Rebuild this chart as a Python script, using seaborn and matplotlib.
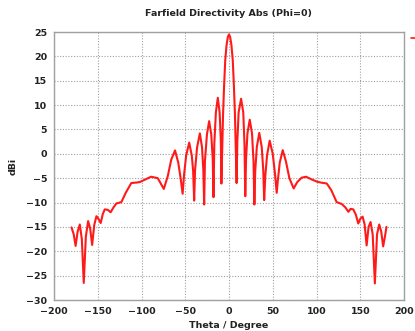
import matplotlib
matplotlib.use("Agg")
import matplotlib.pyplot as plt
import seaborn as sns
import pandas as pd
from matplotlib.lines import Line2D

theta = [
    -180, -177.5, -175.3, -173, -170.5, -168.2, -166, -163.6, -161, -158.7, -156.4, -154, -151.5,
    -149, -146.6, -144.3, -142, -138.5, -135.3, -132, -128.8, -123, -118, -111.7, -106, -102,
    -95, -89, -81.4, -77.6, -74.5, -70, -66, -61.7, -58, -55.3, -53, -51.3, -49, -45.5,
    -42.5, -41, -39.8, -38.8, -36.5, -33.3, -30.8, -29.3, -28.4, -27.5, -25.2, -22.7, -20.3,
    -18.6, -17.7, -16.8, -15, -12.8, -10.7, -9.3, -8.7, -7.8, -6.8, -5.6, -4.3, -2.8, -1.3,
    0,
    1.3, 2.8, 4.3, 5.6, 6.8, 7.8, 8.7, 9.5, 11, 13.8, 16.3, 17.7, 18.6, 19.5, 21.1, 23.7,
    26.3, 28, 29, 30, 31.8, 34.6, 37.4, 39.2, 40.2, 41.5, 43.5, 46.5, 50, 52.8, 54.5, 55.8,
    58, 61.4, 65, 69, 73.9, 78, 83, 88, 95, 100.4, 105, 111.8, 117, 123, 128.8, 133,
    136.4, 139, 142, 145, 147.7, 150.2, 152.7, 155, 157.3, 159.5, 161.8, 164.2, 166.7,
    169.2, 171.7, 174, 176.2, 178.2, 180,
]
dbi = [
    -15.1, -16.5, -18.9, -16.0, -14.5, -17.5, -26.5, -17.0, -13.8, -15.3, -18.7, -14.6, -12.8,
    -13.4, -14.2, -12.4, -11.4, -11.5, -12.0, -11.0, -10.2, -9.9, -8.0, -6.0, -5.9, -5.8,
    -5.2, -4.7, -5.0, -6.2, -7.2, -4.6, -1.2, 0.7, -1.8, -5.0, -8.2, -4.2, -0.4, 2.3,
    -0.4, -3.5, -9.6, -3.4, 1.3, 4.2, 1.3, -3.5, -10.4, -1.5, 4.0, 6.7, 4.0,
    -1.0, -8.9, 2.0, 8.5, 11.5, 8.5, 2.5, -6.1, 1.0, 8.0, 14.0, 19.2, 22.3, 24.0,
    24.5,
    24.0, 22.3, 19.2, 14.0, 8.0, 1.0, -6.0, 2.5, 8.5, 11.3, 8.5, 2.0, -8.7, -1.0, 4.2, 7.0,
    4.2, -1.5, -10.4, -3.5, 1.4, 4.3, 1.4, -3.5, -9.5, -4.5, -0.3, 2.7, 0.0, -4.5, -8.0, -5.5,
    -1.8, 0.75, -1.5, -5.0, -7.1, -5.8, -4.9, -4.7, -5.3, -5.7, -5.9, -6.1, -7.5, -9.9, -10.3, -11.0,
    -11.9, -11.3, -11.4, -12.5, -14.3, -13.3, -12.9, -14.5, -18.8, -15.0, -14.0, -16.5, -26.6,
    -16.5, -14.5, -16.0, -19.0, -17.0, -15.0,
]
x_ticks = [-200, -150, -100, -50, 0, 50, 100, 150, 200]
y_ticks = [-30, -25, -20, -15, -10, -5, 0, 5, 10, 15, 20, 25]
title = "Farfield Directivity Abs (Phi=0)"
x_label = "Theta / Degree"
y_label = "dBi"

df = pd.DataFrame({"theta": theta, "dbi": dbi})

sns.set_theme(style="white")
plt.rcParams["font.family"] = ["DejaVu Sans"]

fig = plt.figure(figsize=(4.15, 3.31), dpi=100)
ax = fig.add_axes([54 / 415, 1 - 300 / 331, 350 / 415, 268 / 331])

sns.lineplot(data=df, x="theta", y="dbi", sort=False, color="#ff1a1a",
             linewidth=1.5, ax=ax, estimator=None)

ax.set_xlim(-200, 200)
ax.set_ylim(-30, 25)
ax.set_xticks(x_ticks)
ax.set_yticks(y_ticks)
ax.grid(True, color="#a0a0a0", linestyle=(0, (1, 1.5)), linewidth=0.8)
for s in ax.spines.values():
    s.set_color("#a0a0a0")
    s.set_linewidth(1.0)
ax.tick_params(axis="x", labelsize=6.8, pad=5, length=0, colors="#222222")
ax.tick_params(axis="y", labelsize=6.8, pad=5, length=0, colors="#222222")
for lab in ax.get_xticklabels() + ax.get_yticklabels():
    lab.set_fontweight("bold")

ax.set_xlabel(x_label, fontsize=6.8, fontweight="bold", labelpad=4, color="#222222")
ax.set_ylabel(y_label, fontsize=6.8, fontweight="bold", labelpad=6, color="#222222")
fig.text(228 / 415, 1 - 14 / 331, title, ha="center", va="center",
         fontsize=6.8, fontweight="bold", color="#222222")

fig.lines.append(Line2D([411 / 415, 415 / 415], [1 - 38 / 331, 1 - 38 / 331],
                        transform=fig.transFigure, color="#ff1a1a", linewidth=1.2))

fig.savefig("out.png", dpi=100)
